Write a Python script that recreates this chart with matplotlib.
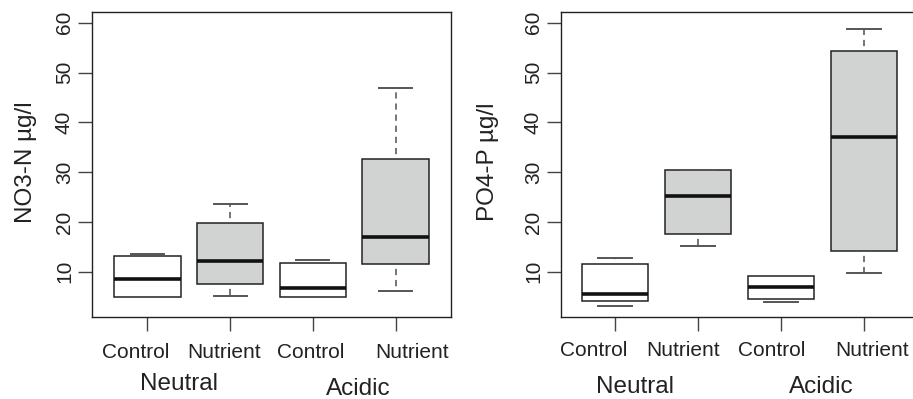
import matplotlib
matplotlib.use("Agg")
import matplotlib.pyplot as plt

plt.rcParams['font.family'] = ['Liberation Sans', 'DejaVu Sans']
plt.rcParams['lines.scale_dashes'] = False

# ---------------- data ----------------
treatments = ["Control", "Nutrient", "Control", "Nutrient"]
groups = ["Neutral", "Acidic"]
yticks = [10, 20, 30, 40, 50, 60]

# NO3-N (five-number summaries)
no3_whislo = [5.0, 5.1, 5.0, 6.2]
no3_q1 = [5.0, 7.6, 5.0, 11.5]
no3_med = [8.5, 12.1, 6.7, 16.9]
no3_q3 = [13.2, 19.7, 11.8, 32.6]
no3_whishi = [13.5, 23.6, 12.4, 46.8]

# PO4-P
po4_whislo = [3.1, 15.2, 3.9, 9.8]
po4_q1 = [4.2, 17.5, 4.5, 14.1]
po4_med = [5.6, 25.1, 7.0, 37.0]
po4_q3 = [11.5, 30.4, 9.2, 54.3]
po4_whishi = [12.7, 30.4, 9.2, 58.7]

fills = ["white", "#d1d2d2", "white", "#d1d2d2"]

W, H = 913, 399
fig = plt.figure(figsize=(W / 100, H / 100), dpi=100)


def px_axes(x0, x1, ytop, ybot):
    return fig.add_axes([x0 / W, 1 - ybot / H, (x1 - x0) / W, (ybot - ytop) / H])


def draw(ax, whislo, q1, med, q3, whishi, xlim, lab_x, lab_y, grp_x, grp_y):
    stats = []
    for lo, a, m, b, hi in zip(whislo, q1, med, q3, whishi):
        stats.append(dict(whislo=lo, q1=a, med=m, q3=b, whishi=hi, fliers=[]))
    positions = list(range(1, len(stats) + 1))
    res = ax.bxp(stats, positions=positions, widths=0.8, patch_artist=True,
                 showfliers=False,
                 boxprops=dict(edgecolor='#222222', linewidth=1.1),
                 whiskerprops=dict(color='#505050', linewidth=1.1,
                                   linestyle=(4.5, (4.5, 3.5))),
                 capprops=dict(color='#555555', linewidth=1.4),
                 medianprops=dict(color='#111111', linewidth=2.6,
                                  solid_capstyle='butt'))
    for patch, c in zip(res['boxes'], fills):
        patch.set_facecolor(c)
    ax.set_xlim(*xlim)
    ax.set_ylim(0.9, 62.15)
    ax.set_yticks(yticks)
    ax.set_yticklabels([str(t) for t in yticks], rotation=90, va='center')
    ax.set_xticks(positions)
    ax.set_xticklabels([])
    ax.tick_params(axis='both', length=10, width=1.0, color='#444444',
                   direction='out', labelsize=15, pad=3, labelcolor='#222222')
    for s in ax.spines.values():
        s.set_linewidth(1.0)
        s.set_color('#222222')
    tr = ax.get_xaxis_transform()
    for x, t in zip(lab_x, treatments):
        ax.text(x, lab_y, t, transform=tr, ha='center', va='baseline',
                fontsize=15, color='#222222', clip_on=False)
    for x, gy, g in zip(grp_x, grp_y, groups):
        ax.text(x, gy, g, transform=tr, ha='center', va='baseline',
                fontsize=17.5, color='#222222', clip_on=False)


ax1 = px_axes(92, 451, 12, 317)
draw(ax1, no3_whislo, no3_q1, no3_med, no3_q3, no3_whishi,
     (0.329, 4.671), [0.853, 1.928, 2.976, 4.2], -0.1354,
     [1.38, 3.546], [-0.239, -0.256])

ax2 = px_axes(561, 918, 12, 317)
draw(ax2, po4_whislo, po4_q1, po4_med, po4_q3, po4_whishi,
     (0.349, 4.651), [0.745, 1.82, 2.888, 4.10], -0.128,
     [1.24, 3.48], [-0.250, -0.250])

fig.text(26 / W, 1 - 161.7 / H, "NO3-N µg/l", rotation=90, ha='center',
         va='center', fontsize=17.5, color='#222222')
fig.text(488 / W, 1 - 161.7 / H, "PO4-P µg/l", rotation=90, ha='center',
         va='center', fontsize=17.5, color='#222222')

fig.savefig("out.png", dpi=100)
